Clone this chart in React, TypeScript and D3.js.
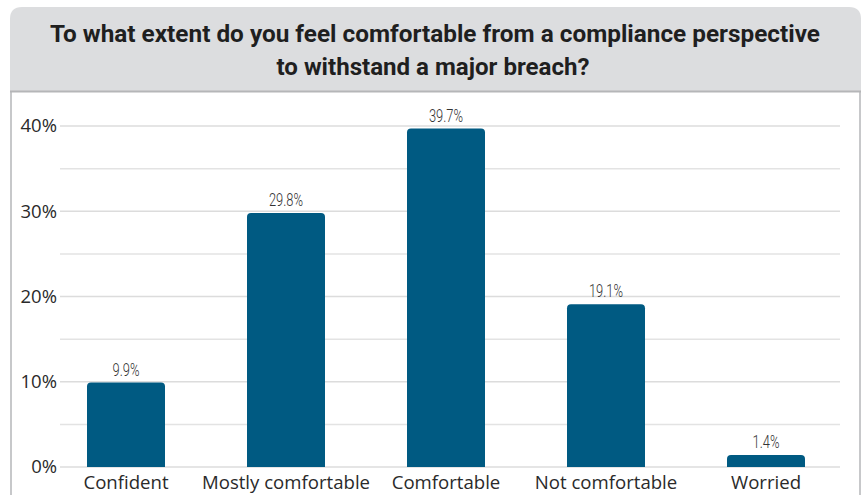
import React from "react";
import * as d3 from "d3";

const categories = ["Confident", "Mostly comfortable", "Comfortable", "Not comfortable", "Worried"];
const values = [9.9, 29.8, 39.7, 19.1, 1.4];
const valueLabels = ["9.9%", "29.8%", "39.7%", "19.1%", "1.4%"];
const majorTicks = [0, 10, 20, 30, 40];
const minorTicks = [5, 15, 25, 35];
const titleLines = [
  "To what extent do you feel comfortable from a compliance perspective",
  "to withstand a major breach?",
];

const W = 866;
const H = 495;
const BAR = "#005a82";

export default function App() {
  const x = d3
    .scaleBand<string>()
    .domain(categories)
    .range([46, 846])
    .paddingInner(0.5125)
    .paddingOuter(0.25625);
  const y = d3.scaleLinear().domain([0, 40]).range([467, 126]);
  const r = 4;

  const barPath = (cat: string, v: number) => {
    const x0 = x(cat)!;
    const x1 = x0 + x.bandwidth();
    const y0 = y(0);
    const y1 = y(v);
    const rr = Math.min(r, (y0 - y1) / 2);
    const p = d3.path();
    p.moveTo(x0, y0);
    p.lineTo(x0, y1 + rr);
    p.quadraticCurveTo(x0, y1, x0 + rr, y1);
    p.lineTo(x1 - rr, y1);
    p.quadraticCurveTo(x1, y1, x1, y1 + rr);
    p.lineTo(x1, y0);
    p.closePath();
    return p.toString();
  };

  const sx = 0.68;

  return (
    <svg
      width={W}
      height={H}
      style={{ position: "absolute", left: 0, top: 0, display: "block" }}
    >
      <rect x={0} y={0} width={W} height={H} fill="#ffffff" />
      {/* header */}
      <path
        d={`M10,91 L10,19 Q10,7 22,7 L849,7 Q861,7 861,19 L861,91 Z`}
        fill="#dcdddf"
      />
      <line x1={10} x2={861} y1={91.5} y2={91.5} stroke="#b5b6b8" strokeWidth={2} />
      <line x1={11} x2={11} y1={92} y2={H} stroke="#b5b6b8" strokeWidth={1.5} />
      <line x1={860} x2={860} y1={92} y2={H} stroke="#b5b6b8" strokeWidth={1.5} />
      <text
        x={435}
        y={42}
        textAnchor="middle"
        fontFamily="Roboto, 'Open Sans', sans-serif"
        fontWeight={700}
        fontSize={24}
        fill="#1f1f1f"
        textLength={770}
        lengthAdjust="spacingAndGlyphs"
      >
        {titleLines[0]}
      </text>
      <text
        x={433}
        y={75}
        textAnchor="middle"
        fontFamily="Roboto, 'Open Sans', sans-serif"
        fontWeight={700}
        fontSize={24}
        fill="#1f1f1f"
        textLength={313}
        lengthAdjust="spacingAndGlyphs"
      >
        {titleLines[1]}
      </text>

      {/* grid */}
      {minorTicks.map((t) => (
        <line key={"m" + t} x1={60} x2={840} y1={y(t)} y2={y(t)} stroke="#e3e3e3" strokeWidth={1.5} />
      ))}
      {majorTicks.map((t) => (
        <line key={"M" + t} x1={60} x2={840} y1={y(t)} y2={y(t)} stroke="#dcdcdc" strokeWidth={1.5} />
      ))}
      {majorTicks.map((t) => (
        <text
          key={"t" + t}
          x={57}
          y={y(t)}
          dy="0.35em"
          textAnchor="end"
          fontFamily="'Open Sans', 'Noto Sans', sans-serif"
          fontSize={18.5}
          fill="#2a2a2a"
        >
          {t + "%"}
        </text>
      ))}

      {/* bars */}
      {categories.map((c, i) => (
        <path key={c} d={barPath(c, values[i])} fill={BAR} />
      ))}
      {categories.map((c, i) => {
        const cx = x(c)! + x.bandwidth() / 2;
        return (
          <text
            key={"v" + c}
            x={cx}
            y={y(values[i]) - 7}
            textAnchor="middle"
            fontFamily="Roboto, sans-serif"
            fontWeight={300}
            fontSize={19}
            fill="#333"
            transform={`translate(${cx * (1 - sx)},0) scale(${sx},1)`}
          >
            {valueLabels[i]}
          </text>
        );
      })}
      {categories.map((c) => (
        <text
          key={"c" + c}
          x={x(c)! + x.bandwidth() / 2}
          y={489}
          textAnchor="middle"
          fontFamily="'Open Sans', 'Noto Sans', sans-serif"
          fontSize={18.6}
          fill="#2a2a2a"
        >
          {c}
        </text>
      ))}
    </svg>
  );
}
